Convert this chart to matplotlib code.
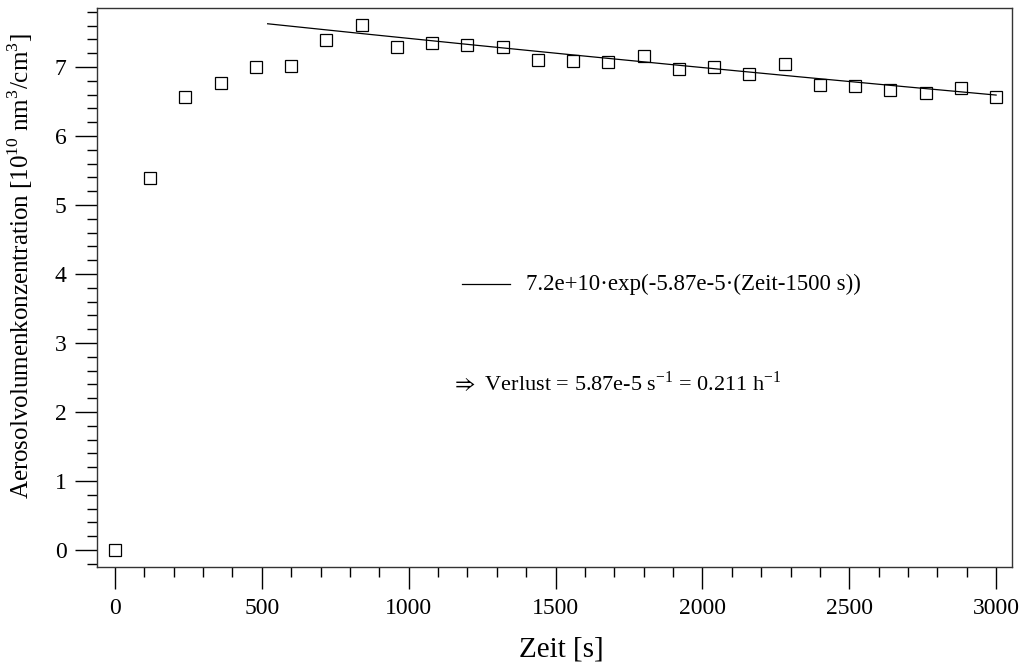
import numpy as np
import matplotlib
matplotlib.use("Agg")
import matplotlib.pyplot as plt
from matplotlib.ticker import MultipleLocator

plt.rcParams['font.family'] = ['Liberation Serif', 'DejaVu Serif']
plt.rcParams['mathtext.fontset'] = 'custom'
plt.rcParams['mathtext.rm'] = 'Liberation Serif'
plt.rcParams['mathtext.fallback'] = 'stix'

# Data
zeit = [0, 120, 240, 360, 480, 600, 720, 840, 960, 1080, 1200, 1320, 1440,
        1560, 1680, 1800, 1920, 2040, 2160, 2280, 2400, 2520, 2640, 2760, 2880, 3000]
konz = [0.0, 5.39, 6.57, 6.77, 7.00, 7.01, 7.39, 7.61, 7.29, 7.35, 7.32, 7.29, 7.10,
        7.09, 7.07, 7.16, 6.97, 7.00, 6.90, 7.04, 6.74, 6.72, 6.67, 6.62, 6.70, 6.57]
fit_a = 7.2
fit_k = 5.87e-5
fit_t0 = 1500
fit_range = [520, 3000]

fig = plt.figure(figsize=(10.22, 6.66), dpi=100)
ax = fig.add_axes([0.0949, 0.1486, 0.8953, 0.8394])

ax.plot(zeit, konz, linestyle='none', marker='s', markersize=8,
        markerfacecolor='white', markeredgecolor='black', markeredgewidth=0.9)

tf = np.linspace(fit_range[0], fit_range[1], 200)
ax.plot(tf, fit_a * np.exp(-fit_k * (tf - fit_t0)), color='black', lw=0.9)

ax.set_xlim(-61, 3054)
ax.set_ylim(-0.246, 7.855)
ax.xaxis.set_major_locator(MultipleLocator(500))
ax.xaxis.set_minor_locator(MultipleLocator(100))
ax.yaxis.set_major_locator(MultipleLocator(1))
ax.yaxis.set_minor_locator(MultipleLocator(0.2))
ax.tick_params(which='major', direction='out', length=16, width=1, labelsize=17, pad=6)
ax.tick_params(which='minor', direction='out', length=7, width=1)
for s in ax.spines.values():
    s.set_linewidth(1)
    s.set_color('#333333')

ax.set_xlabel('Zeit [s]', fontsize=21)
ax.xaxis.set_label_coords(0.508, -0.125)
ax.set_ylabel(r'Aerosolvolumenkonzentration [10$^{10}$ nm$^3$/cm$^3$]', fontsize=18)
ax.yaxis.set_label_coords(-0.068, 0.538)

# legend-like annotation
ax.plot([1180, 1345], [3.85, 3.85], color='black', lw=0.9)
ax.text(1400, 3.85, '7.2e+10·exp(-5.87e-5·(Zeit-1500 s))', fontsize=16.5, va='center', ha='left')
ax.text(1140, 2.42, r'$\Rightarrow$ Verlust = 5.87e-5 s$^{-1}$ = 0.211 h$^{-1}$', fontsize=16,
        va='center', ha='left')

fig.savefig('out.png', dpi=100)
